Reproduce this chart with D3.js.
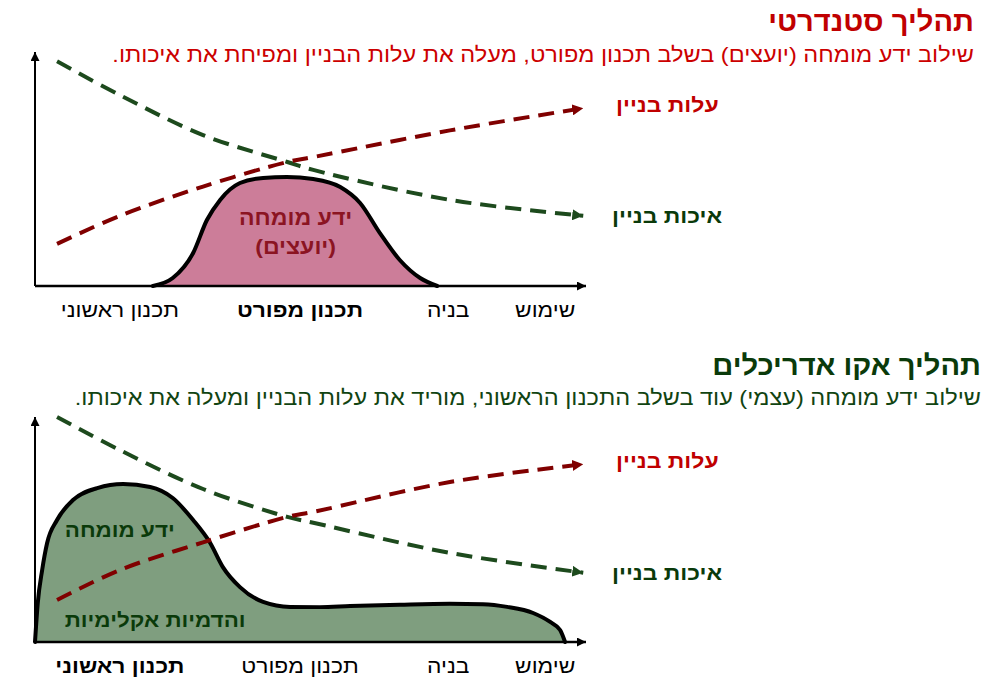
<!DOCTYPE html>
<html lang="he">
<head>
<meta charset="utf-8">
<script src="https://cdn.jsdelivr.net/npm/d3@7"></script>
<style>
  body { margin: 0; background: #fff; }
  svg { display: block; }
  text { font-family: "Liberation Sans", Arial, "DejaVu Sans", sans-serif; }
</style>
</head>
<body>
<div id="chart"></div>
<script>
const W = 1000, H = 689

// timeline phases (position along the time axis, 0..100)
const phases = ['תכנון ראשוני', 'תכנון מפורט', 'בניה', 'שימוש']
const phaseAt = [15.4, 48.1, 75, 92.6]

// shared x values for the cost / quality trend lines
const trendX = [4, 15.4, 30.5, 45.8, 50.5, 75.3, 99.5]

// standard process
const stdCost    = [18, 30, 42.5, 53, 55.1, 66.5, 76]
const stdQuality = [96, 81.6, 64.5, 53, 49.6, 36.8, 30]
const stdKnowX = [21.4, 25, 28.7, 31.2, 33.6, 37.2, 41.4, 45.7, 50.5, 55.4, 59, 62.6, 66.2, 69.9, 73]
const stdKnowY = [0, 3.4, 14.1, 28.2, 36.8, 44, 46.2, 46.6, 45.7, 42.3, 35.5, 22.6, 11.1, 3.4, 0]

// eco-architects process
const ecoCost    = [18.7, 32, 44.3, 55.6, 57.8, 71.1, 79]
const ecoQuality = [100, 85.3, 68, 55.6, 53, 39.6, 30.8]
const ecoKnowX = [0, 0.5, 1.3, 2.2, 4, 6.9, 11.3, 16, 20.9, 25, 28.7, 31.8, 34.1, 37.2, 41.4, 46.3, 51.7, 57.2, 66.2, 75.3, 81.3, 85.7, 90.4, 93.5, 95.3, 96.2]
const ecoKnowY = [0, 17.3, 32, 44, 54.2, 63.1, 68.4, 70.2, 68.9, 64, 54.2, 44, 33.3, 24.4, 17.8, 15.6, 15.5, 16, 16.6, 17, 16.8, 15.6, 12.9, 8.9, 5.3, 0]

const RED = '#c00000', DARKRED = '#800000', GREEN = '#0a3a0a', DASHGREEN = '#1d4a1d'

const svg = d3.select('#chart').append('svg')
    .attr('width', W)
    .attr('height', H)

const defs = svg.append('defs')
;[['arrow-black', '#000', 11, 9], ['arrow-red', DARKRED, 11, 11], ['arrow-green', DASHGREEN, 11, 11]]
  .forEach(([id, color, w, h]) => {
    defs.append('marker')
        .attr('id', id)
        .attr('markerUnits', 'userSpaceOnUse')
        .attr('viewBox', '0 0 10 10')
        .attr('markerWidth', w)
        .attr('markerHeight', h)
        .attr('refX', 10)
        .attr('refY', 5)
        .attr('orient', 'auto')
      .append('path')
        .attr('d', 'M0,0L10,5L0,10Z')
        .attr('fill', color)
  })

const x = d3.scaleLinear().domain([0, 100]).range([35, 586])

// the source font runs a little wider than Liberation Sans, so stretch the glyphs
function rtlText(g, str, px, py, opts) {
  const t = g.append('text')
      .attr('x', px)
      .attr('y', py)
      .attr('direction', 'rtl')
      .attr('text-anchor', opts.anchor || 'middle')
      .attr('font-size', opts.size)
      .attr('font-weight', opts.bold ? 'bold' : 'normal')
      .attr('fill', opts.color)
      .text(str)
  const len = t.node().getComputedTextLength()
  t.attr('textLength', len * (opts.stretch || 1.13))
   .attr('lengthAdjust', 'spacingAndGlyphs')
  return t
}

function drawPanel(p) {
  const g = svg.append('g')
  const y = d3.scaleLinear().domain([0, 100]).range(p.yRange)

  // titles
  rtlText(g, p.title, p.titleRight, p.titleY, { anchor: 'start', size: 28, bold: true, color: p.titleColor, stretch: 1.04 })
  rtlText(g, p.subtitle, p.titleRight, p.subY, { anchor: 'start', size: 21, color: p.subColor, stretch: 1.12 })

  // knowledge area
  const area = d3.area()
      .x(d => x(d[0]))
      .y0(y(0))
      .y1(d => y(d[1]))
      .curve(d3.curveMonotoneX)
  const line = d3.line()
      .x(d => x(d[0]))
      .y(d => y(d[1]))
      .curve(d3.curveMonotoneX)
  const trend = d3.line()
      .x(d => x(d[0]))
      .y(d => y(d[1]))
      .curve(d3.curveCatmullRom)
  const know = d3.zip(p.knowX, p.knowY)

  g.append('path')
      .attr('d', area(know))
      .attr('fill', p.fill)

  // axes
  g.append('line')
      .attr('x1', x(0)).attr('y1', y(0))
      .attr('x2', x(0)).attr('y2', y(100))
      .attr('stroke', '#000').attr('stroke-width', 2)
      .attr('marker-end', 'url(#arrow-black)')
  g.append('line')
      .attr('x1', x(0)).attr('y1', y(0))
      .attr('x2', x(100)).attr('y2', y(0))
      .attr('stroke', '#000').attr('stroke-width', 2.5)
      .attr('marker-end', 'url(#arrow-black)')

  g.append('path')
      .attr('d', line(know))
      .attr('fill', 'none')
      .attr('stroke', '#000')
      .attr('stroke-width', 4)
      .attr('stroke-linecap', 'round')

  // trend lines
  ;[[p.quality, DASHGREEN, 'arrow-green'], [p.cost, DARKRED, 'arrow-red']].forEach(([vals, color, mk]) => {
    g.append('path')
        .attr('d', trend(d3.zip(trendX, vals)))
        .attr('fill', 'none')
        .attr('stroke', color)
        .attr('stroke-width', 4)
        .attr('stroke-dasharray', '16,9')
        .attr('marker-end', `url(#${mk})`)
  })

  rtlText(g, 'עלות בניין', 616, y(p.cost[p.cost.length - 1]) + 4, { anchor: 'end', size: 20, bold: true, color: RED, stretch: 1.15 })
  rtlText(g, 'איכות בניין', 612, y(p.quality[p.quality.length - 1]) + 7, { anchor: 'end', size: 20, bold: true, color: GREEN, stretch: 1.15 })

  // phase labels
  phases.forEach((ph, i) => {
    rtlText(g, ph, x(phaseAt[i]), y(0) + 31, { size: 20, bold: i === p.boldPhase, color: '#000', stretch: 1.14 })
  })

  p.notes(g, y)
}

drawPanel({
  title: 'תהליך סטנדרטי',
  subtitle: 'שילוב ידע מומחה (יועצים) בשלב תכנון מפורט, מעלה את עלות הבניין ומפיחת את איכותו.',
  titleColor: RED, subColor: '#cc0000',
  titleRight: 974, titleY: 31, subY: 62,
  yRange: [286, 52],
  cost: stdCost, quality: stdQuality,
  knowX: stdKnowX, knowY: stdKnowY,
  fill: '#cc7d99',
  boldPhase: 1,
  notes: (g, y) => {
    rtlText(g, 'ידע מומחה', x(47.3), y(26), { size: 21, bold: true, color: '#8b1422', stretch: 1.1 })
    rtlText(g, '(יועצים)', x(47.3), y(13.5), { size: 21, bold: true, color: '#8b1422', stretch: 1.1 })
  }
})

drawPanel({
  title: 'תהליך אקו אדריכלים',
  subtitle: 'שילוב ידע מומחה (עצמי) עוד בשלב התכנון הראשוני, מוריד את עלות הבניין ומעלה את איכותו.',
  titleColor: GREEN, subColor: '#114411',
  titleRight: 981, titleY: 375, subY: 405,
  yRange: [642, 417],
  cost: ecoCost, quality: ecoQuality,
  knowX: ecoKnowX, knowY: ecoKnowY,
  fill: '#7f9e7f',
  boldPhase: 0,
  notes: (g, y) => {
    rtlText(g, 'ידע מומחה', x(5.4), y(46.5), { anchor: 'end', size: 20, bold: true, color: GREEN, stretch: 1.12 })
    rtlText(g, 'והדמיות אקלימיות', x(5.4), y(6.5), { anchor: 'end', size: 20, bold: true, color: GREEN, stretch: 1.12 })
  }
})
</script>
</body>
</html>
